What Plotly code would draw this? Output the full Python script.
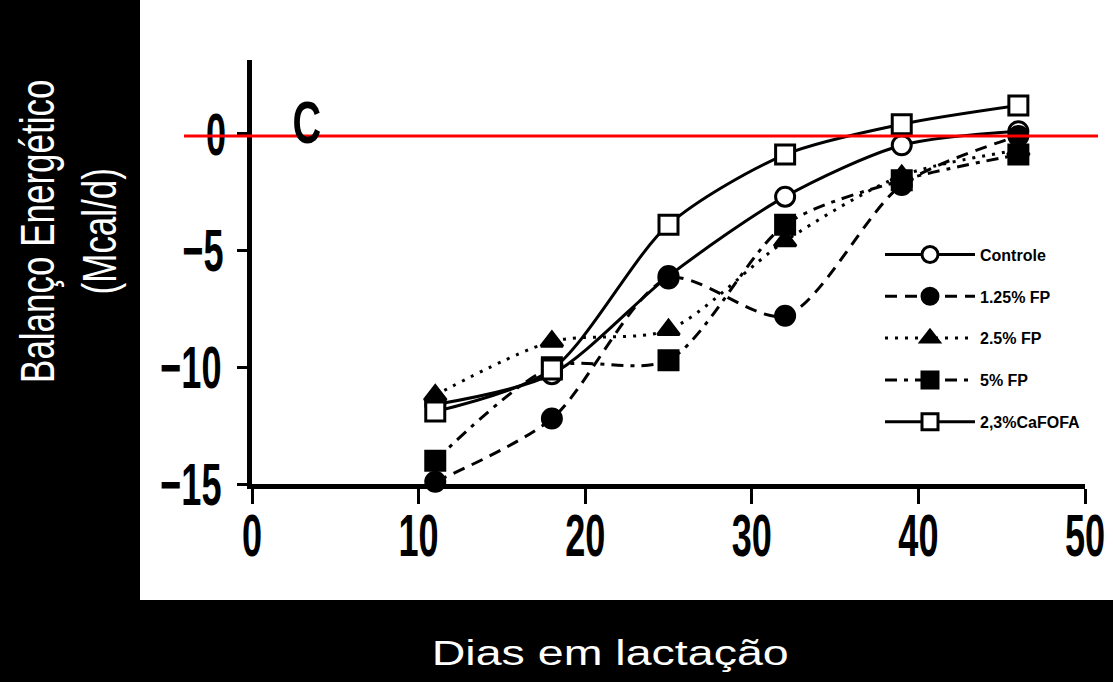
import plotly.graph_objects as go

days = [11, 18, 25, 32, 39, 46]
series_names = ["Controle", "1.25% FP", "2.5% FP", "5% FP", "2,3%CaFOFA"]
controle = [-11.6, -10.3, -6.1, -2.7, -0.5, 0.1]
fp125 = [-14.9, -12.2, -6.2, -7.8, -2.2, -0.1]
fp25 = [-11.2, -8.9, -8.4, -4.6, -1.8, -0.7]
fp5 = [-14.0, -10.0, -9.7, -3.9, -2.0, -0.9]
cafofa = [-11.9, -10.1, -3.9, -0.9, 0.4, 1.2]
x_ticks = [0, 10, 20, 30, 40, 50]
y_ticks = [0, -5, -10, -15]
ref_line = -0.1

values = [controle, fp125, fp25, fp5, cafofa]
styles = [
    dict(symbol="circle", fill="white", dash="solid"),
    dict(symbol="circle", fill="black", dash="12px,8px"),
    dict(symbol="triangle-up", fill="black", dash="3px,7px"),
    dict(symbol="square", fill="black", dash="12px,7px,4px,7px"),
    dict(symbol="square", fill="white", dash="solid"),
]

fig = go.Figure()
for i, (name, vals, st) in enumerate(zip(series_names, values, styles)):
    fig.add_trace(go.Scatter(
        x=days, y=vals, name=name, mode="lines+markers",
        line=dict(color="black", width=3, dash=st["dash"], shape="spline", smoothing=0.8),
        marker=dict(symbol=st["symbol"], size=19, color=st["fill"],
                    line=dict(color="black", width=3)),
        cliponaxis=False, legendgroup=f"g{i}",
    ))

tick_font = dict(family="Liberation Sans, Arial", size=44, color="black", weight="bold")

fig.update_layout(
    width=1113, height=682,
    margin=dict(l=140, r=0, t=0, b=82, autoexpand=False),
    paper_bgcolor="black", plot_bgcolor="white",
    showlegend=True,
    legend=dict(x=(880 - 140) / 973, y=0.604, xanchor="left", yanchor="top",
                bgcolor="rgba(0,0,0,0)", itemwidth=90, tracegroupgap=18,
                font=dict(family="Liberation Sans, Arial", size=16, color="black", weight="bold")),
    xaxis=dict(domain=[(252 - 140) / 973, (1085 - 140) / 973], range=[0, 50],
               tickvals=x_ticks, ticks="outside", ticklen=15, tickwidth=3, tickcolor="black",
               showline=True, linewidth=5, linecolor="black", showgrid=False, zeroline=False,
               tickfont=tick_font, ticklabeloverflow="allow", automargin=False),
    yaxis=dict(domain=[(600 - 484) / 600, (600 - 60) / 600], range=[-15, 3.15],
               tickvals=y_ticks, ticks="outside", ticklen=10, tickwidth=3, tickcolor="black",
               showline=True, linewidth=5, linecolor="black", showgrid=False, zeroline=False,
               tickfont=tick_font, ticklabeloverflow="allow", automargin=False),
)

fig.add_shape(type="rect", xref="paper", yref="paper", x0=0, x1=1, y0=0, y1=1,
              fillcolor="white", line=dict(width=0), layer="below")
fig.add_shape(type="line", xref="paper", yref="y", x0=(184 - 140) / 973, x1=(1098 - 140) / 973,
              y0=ref_line, y1=ref_line, line=dict(color="#ff0000", width=3), layer="above")

fig.add_annotation(x=(307 - 252) / 16.66, y=(133.5 - 121.5) / 23.3, xref="x", yref="y",
                   text="C", showarrow=False, font=tick_font)
fig.add_annotation(x=(68 - 140) / 973, y=1 - 231 / 600, xref="paper", yref="paper",
                   xanchor="center", yanchor="middle",
                   text="Balanço Energético<br>(Mcal/d)", textangle=-90, showarrow=False,
                   font=dict(family="Liberation Sans, Arial", size=35, color="white"))
fig.add_annotation(x=(610 - 140) / 973, y=(600 - 652) / 600, xref="paper", yref="paper",
                   xanchor="center", yanchor="middle",
                   text="Dias em lactação", showarrow=False,
                   font=dict(family="Liberation Sans, Arial", size=35, color="white"))

post = """
document.body.style.margin='0';
document.body.style.background='black';
function st(el, sx, sy, dy){
  var b = el.getBBox();
  var cx = b.x + b.width/2, cy = b.y + b.height/2;
  var t = el.getAttribute('transform') || '';
  el.setAttribute('transform', t + ' translate(' + cx + ',' + (cy + (dy || 0)) + ') scale(' + sx + ',' + sy +
                  ') translate(' + (-cx) + ',' + (-cy) + ')');
}
document.querySelectorAll('.xtick text').forEach(function(e){ st(e, 0.82, 1.36, -6); });
document.querySelectorAll('.ytick text').forEach(function(e){ st(e, 0.82, 1.36, 0); });
document.querySelectorAll('.annotation-text').forEach(function(e){
  var s = e.textContent;
  if (s === 'C') st(e, 0.9, 1.36, 0);
  else if (s.indexOf('Dias') === 0) st(e, 1.33, 1.0, 0);
  else if (s.indexOf('Balan') === 0) st(e, 1.0, 1.35, 0);
});
"""

fig.write_html("out.html", post_script=post, config={"displayModeBar": False})
